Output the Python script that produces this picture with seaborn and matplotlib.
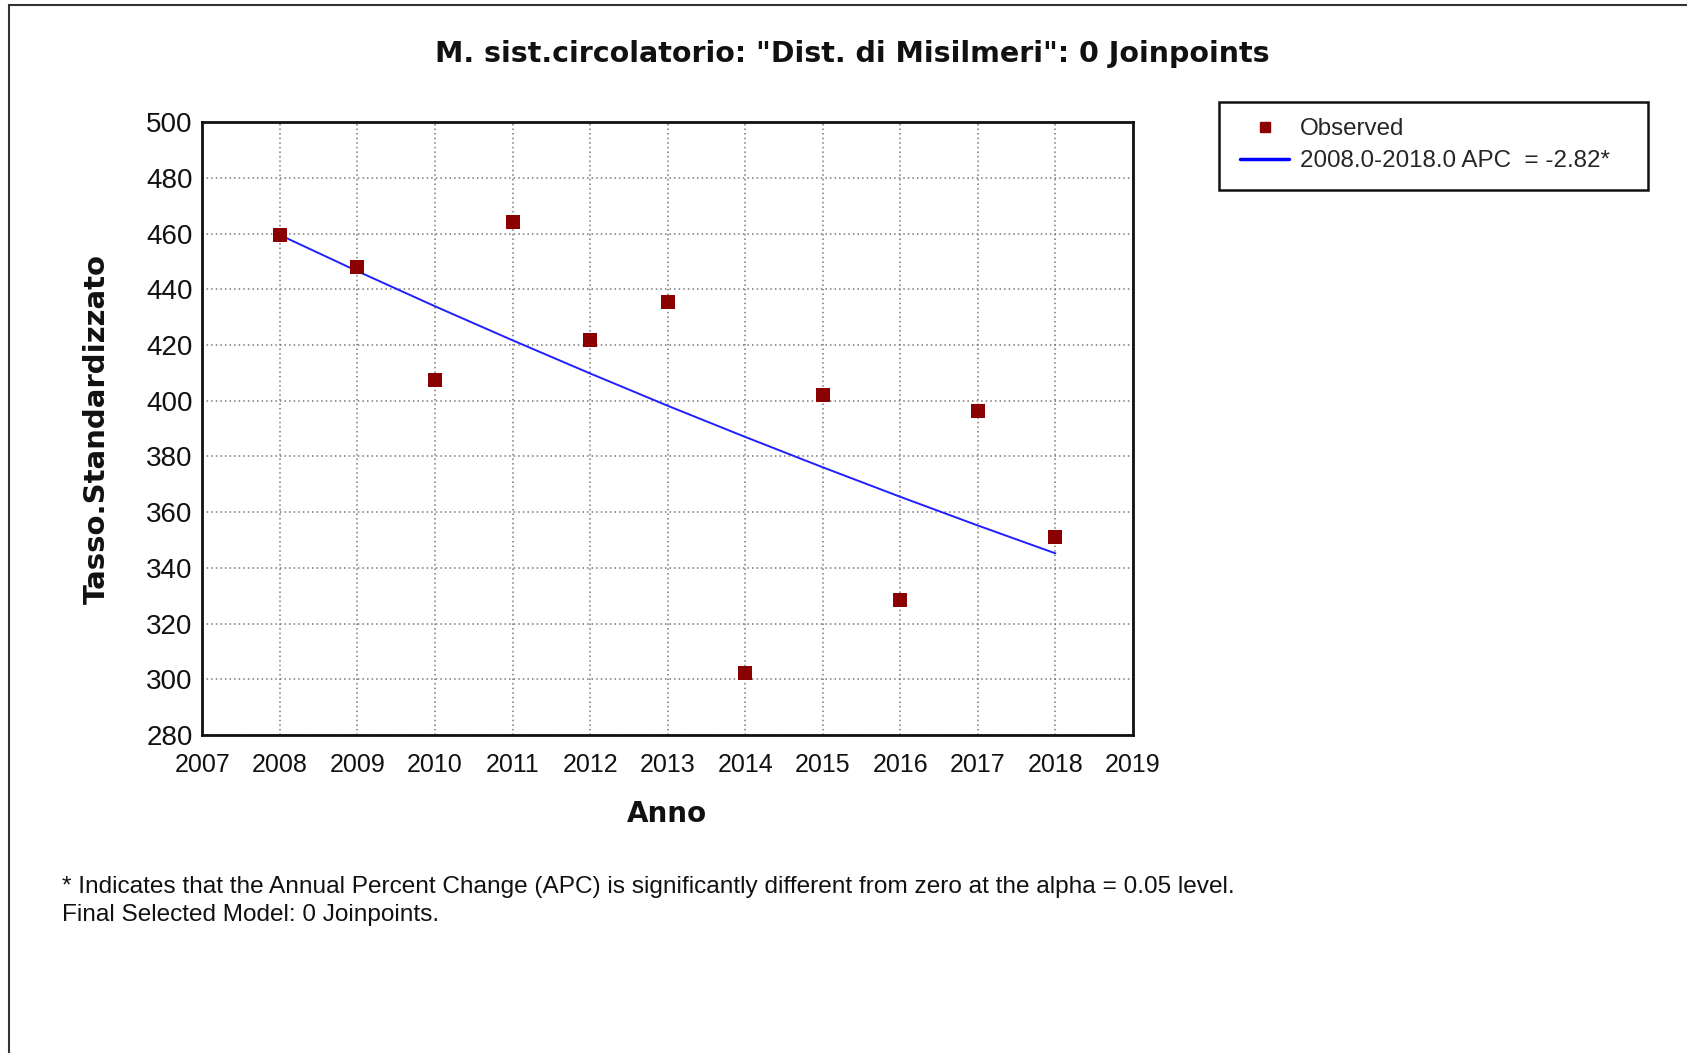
import matplotlib
matplotlib.use("Agg")
import matplotlib.pyplot as plt
import seaborn as sns
import pandas as pd
from matplotlib.lines import Line2D
from matplotlib.patches import Rectangle

# ---- data ----
years = [2008, 2009, 2010, 2011, 2012, 2013, 2014, 2015, 2016, 2017, 2018]
observed = [459.6, 448.0, 407.4, 464.1, 421.7, 435.5, 302.4, 402.0, 328.3, 396.2, 351.0]
fitted = [459.5, 446.5, 433.9, 421.7, 409.8, 398.2, 387.0, 376.1, 365.5, 355.2, 345.2]
x_ticks = list(range(2007, 2020))
y_ticks = list(range(280, 501, 20))
title = 'M. sist.circolatorio: "Dist. di Misilmeri": 0 Joinpoints'
xlabel = "Anno"
ylabel = "Tasso.Standardizzato"
legend_obs = "Observed"
legend_fit = "2008.0-2018.0 APC  = -2.82*"
note1 = "* Indicates that the Annual Percent Change (APC) is significantly different from zero at the alpha = 0.05 level."
note2 = "Final Selected Model: 0 Joinpoints."

df_obs = pd.DataFrame({"Anno": years, "Tasso": observed})
df_fit = pd.DataFrame({"Anno": years, "Tasso": fitted})

sns.set_theme(style="white")
plt.rcParams["font.family"] = ["Liberation Sans", "DejaVu Sans"]

sans = ["Liberation Sans", "DejaVu Sans"]
bold = ["DejaVu Sans"]

fig = plt.figure(figsize=(16.87, 10.53), dpi=100)
fig.patch.set_facecolor("white")
ax = fig.add_axes([0.1199, 0.302, 0.6716 - 0.1199, 0.884 - 0.302])

sns.lineplot(data=df_fit, x="Anno", y="Tasso", ax=ax, color="#2020ff", linewidth=1.4, legend=False)
sns.scatterplot(data=df_obs, x="Anno", y="Tasso", ax=ax, marker="s", s=100, color="#8b0000",
                edgecolor="#8b0000", linewidth=0, legend=False, zorder=5)

ax.set_xlim(2007, 2019)
ax.set_ylim(280, 500)
ax.set_xticks(x_ticks)
ax.set_yticks(y_ticks)
ax.set_xticklabels([str(t) for t in x_ticks], fontfamily=sans, fontsize=18, color="#111111")
ax.set_yticklabels([str(t) for t in y_ticks], fontfamily=sans, fontsize=20, color="#111111")
ax.tick_params(axis="x", length=0, pad=13)
ax.tick_params(axis="y", length=0, pad=7)
ax.grid(True, linestyle=(0, (1, 2)), color="#777777", linewidth=1.1)
for sp in ax.spines.values():
    sp.set_visible(True)
    sp.set_color("#111111")
    sp.set_linewidth(2)
ax.set_xlabel("")
ax.set_ylabel("")

fig.text(0.505, 0.949, title, ha="center", va="center", fontsize=20.5, fontweight="bold",
         family=bold, color="#111111")
fig.text(0.0574, 0.593, ylabel, ha="center", va="center", rotation=90, fontsize=21,
         fontweight="bold", family=bold, color="#111111")
fig.text(0.3955, 0.2265, xlabel, ha="center", va="center", fontsize=20, fontweight="bold",
         family=bold, color="#111111")
fig.text(0.037, 0.158, note1, ha="left", va="center", fontsize=17.6, family=sans, color="#111111")
fig.text(0.037, 0.131, note2, ha="left", va="center", fontsize=17.6, family=sans, color="#111111")

# legend box
fig.add_artist(Rectangle((0.7226, 0.8194), 0.977 - 0.7226, 0.9031 - 0.8194, transform=fig.transFigure,
                         facecolor="white", edgecolor="#111111", linewidth=1.8, zorder=3))
handles = [
    Line2D([], [], marker="s", linestyle="none", color="#8b0000", markersize=7),
    Line2D([], [], color="#0000ff", linewidth=2.5),
]
leg = fig.legend(handles, [legend_obs, legend_fit], loc="upper left",
                 bbox_to_anchor=(0.7353, 0.8876), frameon=False, borderaxespad=0, borderpad=0,
                 handlelength=2.0, handletextpad=0.45, labelspacing=0.41,
                 prop={"family": sans, "size": 17.4})
leg.set_zorder(4)

# figure frame lines (top & left)
fig.add_artist(Line2D([0.0051, 1.0], [0.995, 0.995], transform=fig.transFigure, color="#333333", linewidth=1.5))
fig.add_artist(Line2D([0.0051, 0.0051], [0.0, 0.995], transform=fig.transFigure, color="#333333", linewidth=1.5))

fig.savefig("out.png", dpi=100, facecolor="white")
